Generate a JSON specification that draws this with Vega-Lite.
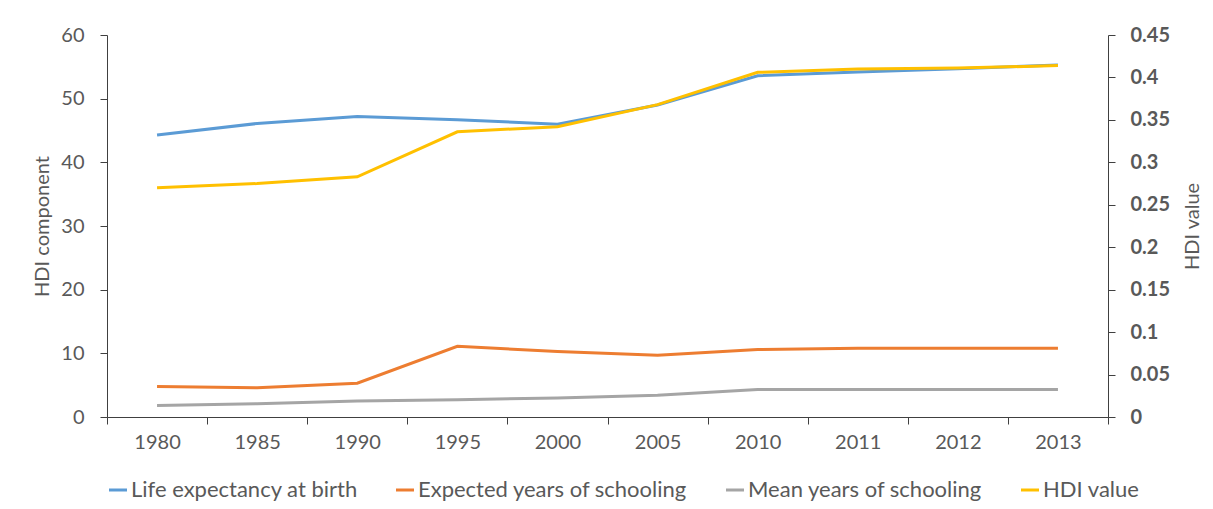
{
  "$schema": "https://vega.github.io/schema/vega-lite/v6.json",
  "width": 1001,
  "height": 382,
  "autosize": {"type": "none"},
  "padding": {"left": 107, "top": 35, "right": 105, "bottom": 92},
  "background": "white",
  "config": {
    "font": "Lato",
    "view": {"stroke": null},
    "axis": {
      "labelFont": "Lato",
      "titleFont": "Lato",
      "labelFontSize": 20,
      "titleFontSize": 20,
      "labelColor": "#595959",
      "titleColor": "#595959",
      "titleFontWeight": "normal",
      "domainColor": "#404040",
      "tickColor": "#404040",
      "grid": false
    },
    "legend": {
      "labelFont": "Lato",
      "labelFontSize": 22,
      "labelColor": "#595959",
      "labelLimit": 0
    }
  },
  "data": {
    "values": [
      {"year": "1980", "series": "Life expectancy at birth", "value": 44.3},
      {"year": "1985", "series": "Life expectancy at birth", "value": 46.1},
      {"year": "1990", "series": "Life expectancy at birth", "value": 47.2},
      {"year": "1995", "series": "Life expectancy at birth", "value": 46.7},
      {"year": "2000", "series": "Life expectancy at birth", "value": 46.0},
      {"year": "2005", "series": "Life expectancy at birth", "value": 49.0},
      {"year": "2010", "series": "Life expectancy at birth", "value": 53.6},
      {"year": "2011", "series": "Life expectancy at birth", "value": 54.2},
      {"year": "2012", "series": "Life expectancy at birth", "value": 54.7},
      {"year": "2013", "series": "Life expectancy at birth", "value": 55.3},
      {"year": "1980", "series": "Expected years of schooling", "value": 4.8},
      {"year": "1985", "series": "Expected years of schooling", "value": 4.6},
      {"year": "1990", "series": "Expected years of schooling", "value": 5.3},
      {"year": "1995", "series": "Expected years of schooling", "value": 11.1},
      {"year": "2000", "series": "Expected years of schooling", "value": 10.3},
      {"year": "2005", "series": "Expected years of schooling", "value": 9.7},
      {"year": "2010", "series": "Expected years of schooling", "value": 10.6},
      {"year": "2011", "series": "Expected years of schooling", "value": 10.8},
      {"year": "2012", "series": "Expected years of schooling", "value": 10.8},
      {"year": "2013", "series": "Expected years of schooling", "value": 10.8},
      {"year": "1980", "series": "Mean years of schooling", "value": 1.8},
      {"year": "1985", "series": "Mean years of schooling", "value": 2.1},
      {"year": "1990", "series": "Mean years of schooling", "value": 2.5},
      {"year": "1995", "series": "Mean years of schooling", "value": 2.7},
      {"year": "2000", "series": "Mean years of schooling", "value": 3.0},
      {"year": "2005", "series": "Mean years of schooling", "value": 3.4},
      {"year": "2010", "series": "Mean years of schooling", "value": 4.3},
      {"year": "2011", "series": "Mean years of schooling", "value": 4.3},
      {"year": "2012", "series": "Mean years of schooling", "value": 4.3},
      {"year": "2013", "series": "Mean years of schooling", "value": 4.3},
      {"year": "1980", "series": "HDI value", "value": 0.270},
      {"year": "1985", "series": "HDI value", "value": 0.275},
      {"year": "1990", "series": "HDI value", "value": 0.283},
      {"year": "1995", "series": "HDI value", "value": 0.336},
      {"year": "2000", "series": "HDI value", "value": 0.342},
      {"year": "2005", "series": "HDI value", "value": 0.368},
      {"year": "2010", "series": "HDI value", "value": 0.406},
      {"year": "2011", "series": "HDI value", "value": 0.410},
      {"year": "2012", "series": "HDI value", "value": 0.411},
      {"year": "2013", "series": "HDI value", "value": 0.414}
    ]
  },
  "encoding": {
    "x": {
      "field": "year",
      "type": "ordinal",
      "bandPosition": 0.5,
      "scale": {"type": "band", "paddingInner": 0, "paddingOuter": 0},
      "axis": {
        "title": null,
        "labelAngle": 0,
        "tickBand": "extent",
        "tickSize": 7,
        "labelPadding": 8
      }
    },
    "color": {
      "field": "series",
      "type": "nominal",
      "sort": ["Life expectancy at birth", "Expected years of schooling", "Mean years of schooling", "HDI value"],
      "scale": {
        "domain": ["Life expectancy at birth", "Expected years of schooling", "Mean years of schooling", "HDI value"],
        "range": ["#5B9BD5", "#ED7D31", "#A5A5A5", "#FFC000"]
      },
      "legend": {
        "title": null,
        "orient": "bottom",
        "direction": "horizontal",
        "symbolType": "stroke",
        "symbolStrokeWidth": 3,
        "symbolSize": 324,
        "columnPadding": 32,
        "labelOffset": 2,
        "offset": 27
      }
    }
  },
  "layer": [
    {
      "transform": [{"filter": "datum.series !== 'HDI value'"}],
      "mark": {"type": "line", "strokeWidth": 3},
      "encoding": {
        "y": {
          "field": "value",
          "type": "quantitative",
          "scale": {"domain": [0, 60], "nice": false},
          "axis": {
            "title": "HDI component",
            "values": [0, 10, 20, 30, 40, 50, 60],
            "tickSize": 7,
            "labelPadding": 16,
            "titlePadding": 8
          }
        }
      }
    },
    {
      "transform": [{"filter": "datum.series === 'HDI value'"}],
      "mark": {"type": "line", "strokeWidth": 3},
      "encoding": {
        "y": {
          "field": "value",
          "type": "quantitative",
          "scale": {"domain": [0, 0.45], "nice": false},
          "axis": {
            "orient": "right",
            "title": "HDI value",
            "titleAngle": 270,
            "titleBaseline": "top",
            "values": [0, 0.05, 0.1, 0.15, 0.2, 0.25, 0.3, 0.35, 0.4, 0.45],
            "format": "~g",
            "labelFontWeight": "bold",
            "tickSize": 7,
            "labelPadding": 15,
            "titlePadding": 13
          }
        }
      }
    }
  ],
  "resolve": {"scale": {"y": "independent"}}
}
